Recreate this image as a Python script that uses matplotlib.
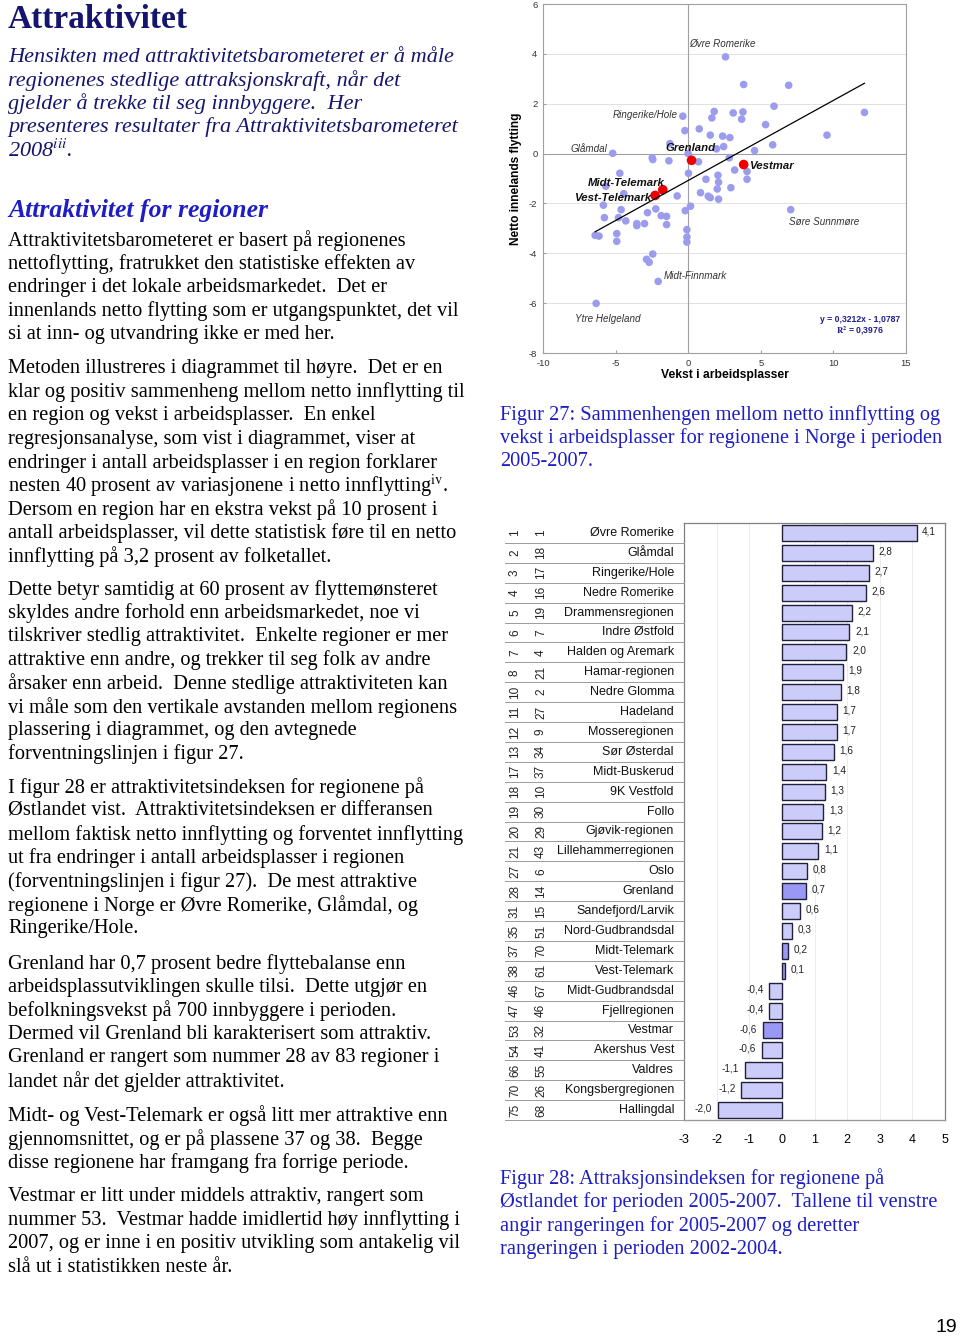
import matplotlib.pyplot as plt
from matplotlib.transforms import blended_transform_factory
import numpy as np

plt.rcParams['mathtext.fontset'] = 'stix'
plt.rcParams['font.family'] = ['Liberation Sans', 'DejaVu Sans']
plt.rcParams['axes.unicode_minus'] = False

W, H = 960, 1336

# --- Figur 27: vekst i arbeidsplasser (x) mot netto innenlands flytting (y)
vekst = [2.57, 3.82, 6.92, 5.91, 12.14, -0.37, 1.79, 1.63, 3.10, 3.77,
         3.68, 5.33, -0.23, 0.76, 1.52, 2.37, 2.87, 9.56, 2.44, 1.95,
         5.82, 4.57, -1.26, -5.20, -2.48, -2.44, -1.33, 0.00, 0.71, 2.83,
         3.20, 4.05, 4.05, -4.71, 0.02, 1.22, 2.05, 2.09, 2.00, 2.94,
         -5.68, -4.44, -0.76, 0.85, 1.38, 1.52, 2.09, -5.84, -5.77, -4.62,
         -4.80, -4.30, -3.54, -3.54, -3.01, -2.80, -2.23, -1.86, -1.49, -1.49,
         -0.20, 0.16, -0.09, -0.09, -0.09, -6.41, -6.14, -4.92, -4.92, -2.44,
         -2.87, -2.69, -2.07, -6.34, 7.06]
flytting = [3.88, 2.77, 2.74, 1.90, 1.65, 1.50, 1.69, 1.43, 1.63, 1.67,
            1.38, 1.16, 0.92, 0.99, 0.74, 0.70, 0.64, 0.74, 0.28, 0.19,
            0.35, 0.12, 0.40, 0.01, -0.17, -0.24, -0.29, 0.00, -0.33, -0.17,
            -0.66, -0.72, -1.03, -0.79, -0.79, -1.03, -0.87, -1.15, -1.42, -1.37,
            -1.31, -1.61, -1.70, -1.57, -1.71, -1.77, -1.83, -2.07, -2.57, -2.25,
            -2.57, -2.70, -2.81, -2.89, -2.81, -2.37, -2.22, -2.49, -2.52, -2.85,
            -2.29, -2.11, -3.05, -3.35, -3.55, -3.28, -3.31, -3.21, -3.52, -4.03,
            -4.24, -4.36, -5.13, -6.01, -2.25]

# navngitte punkter (indeks i listene over)
navn_punkt = ['Øvre Romerike', 'Ringerike/Hole', 'Glåmdal', 'Midt-Finnmark',
              'Ytre Helgeland', 'Søre Sunnmøre']
navn_idx = [0, 5, 23, 72, 73, 74]

# Telemark-regionene
tm_navn = ['Grenland', 'Vestmar', 'Midt-Telemark', 'Vest-Telemark']
tm_x = [0.23, 3.82, -1.75, -2.28]
tm_y = [-0.27, -0.44, -1.45, -1.68]

stigning, konstant, r2 = 0.3212, -1.0787, 0.3976

# --- Figur 28: attraksjonsindeks Østlandet
rang_0507 = [1, 2, 3, 4, 5, 6, 7, 8, 10, 11, 12, 13, 17, 18, 19, 20, 21, 27,
             28, 31, 35, 37, 38, 46, 47, 53, 54, 66, 70, 75]
rang_0204 = [1, 18, 17, 16, 19, 7, 4, 21, 2, 27, 9, 34, 37, 10, 30, 29, 43, 6,
             14, 15, 51, 70, 61, 67, 46, 32, 41, 55, 26, 68]
regioner = ['Øvre Romerike', 'Glåmdal', 'Ringerike/Hole', 'Nedre Romerike',
            'Drammensregionen', 'Indre Østfold', 'Halden og Aremark',
            'Hamar-regionen', 'Nedre Glomma', 'Hadeland', 'Mosseregionen',
            'Sør Østerdal', 'Midt-Buskerud', '9K Vestfold', 'Follo',
            'Gjøvik-regionen', 'Lillehammerregionen', 'Oslo', 'Grenland',
            'Sandefjord/Larvik', 'Nord-Gudbrandsdal', 'Midt-Telemark',
            'Vest-Telemark', 'Midt-Gudbrandsdal', 'Fjellregionen', 'Vestmar',
            'Akershus Vest', 'Valdres', 'Kongsbergregionen', 'Hallingdal']
indeks = [4.13, 2.78, 2.66, 2.58, 2.16, 2.07, 1.98, 1.86, 1.80, 1.69, 1.69,
          1.60, 1.36, 1.32, 1.27, 1.22, 1.12, 0.77, 0.73, 0.56, 0.32, 0.19,
          0.11, -0.39, -0.39, -0.59, -0.62, -1.14, -1.24, -1.96]

fig = plt.figure(figsize=(9.6, 13.36), dpi=100)


def fy(py):
    return 1 - py / H


def komma(v, fmt='%.1f'):
    return (fmt % v).replace('.', ',')


# ---------------- scatter ----------------
ax1 = fig.add_axes([543 / W, fy(353), 363 / W, 349 / H])
ax1.set_xlim(-10, 15)
ax1.set_ylim(-8, 6)
ax1.set_xticks(range(-10, 16, 5))
ax1.set_yticks(range(-8, 7, 2))
for v in range(-8, 7, 2):
    if v != 0:
        ax1.axhline(v, color='#dcdcdc', lw=0.6, zorder=0)
ax1.axhline(0, color='#a0a0a0', lw=0.8, zorder=0)
ax1.axvline(0, color='#a0a0a0', lw=0.8, zorder=0)
for s in ax1.spines.values():
    s.set_color('#a0a0a0')
    s.set_linewidth(0.8)
ax1.tick_params(labelsize=6.8, labelcolor='#333333', length=2, direction='in',
                color='#a0a0a0', pad=4)

ax1.scatter(vekst, flytting, s=30, color='#9c9cee', edgecolors='none', zorder=3)
ax1.scatter(tm_x, tm_y, s=48, color='#ee0000', edgecolors='none', zorder=4)

xl = np.array([min(vekst), max(vekst)])
ax1.plot(xl, stigning * xl + konstant, color='black', lw=0.9, zorder=5)

# etiketter
off_navn = [(-2, 9, 'center'), (-4, 1, 'right'), (-4, 3, 'right'),
            (4, 4, 'left'), (8, -11, 'center'), (-1, -9, 'left')]
for nv, i, (dx, dy, ha) in zip(navn_punkt, navn_idx, off_navn):
    ax1.annotate(nv, (vekst[i], flytting[i]), xytext=(dx, dy),
                 textcoords='offset points', ha=ha, va='center',
                 fontsize=7.1, style='italic', color='#333333', zorder=6)
off_tm = [(-1, 9, 'center'), (4, -1, 'left'), (1, 5, 'right'), (-3, -2, 'right')]
for nv, x, y, (dx, dy, ha) in zip(tm_navn, tm_x, tm_y, off_tm):
    ax1.annotate(nv, (x, y), xytext=(dx, dy), textcoords='offset points',
                 ha=ha, va='center', fontsize=8.2, style='italic',
                 weight='bold', color='#111111', zorder=6)

ax1.text(0.985, 0.095, 'y = %sx - %s' % (komma(stigning, '%.4f'),
                                         komma(-konstant, '%.4f')),
         transform=ax1.transAxes, ha='right', va='center', fontsize=6.2,
         weight='bold', color='#1c1c90')
ax1.text(0.94, 0.063, '$\\mathbf{R^2}$ = %s' % komma(r2, '%.4f'),
         transform=ax1.transAxes, ha='right', va='center', fontsize=6.2,
         weight='bold', color='#1c1c90')
ax1.set_xlabel('Vekst i arbeidsplasser', fontsize=8.7, weight='bold', labelpad=1)
ax1.set_ylabel('Netto innelands flytting', fontsize=8.6, weight='bold', labelpad=5)

# ---------------- stolpediagram ----------------
n = len(regioner)
ax2 = fig.add_axes([684 / W, fy(1120), 261 / W, 597 / H])
rad = np.arange(n)
uthevet = {'Grenland', 'Midt-Telemark', 'Vest-Telemark', 'Vestmar'}
farger = ['#9999f5' if r in uthevet else '#ccccfa' for r in regioner]
ax2.barh(rad, indeks, height=0.8, color=farger, edgecolor='#20203a', lw=1,
         zorder=3)
ax2.set_xlim(-3, 5)
ax2.set_ylim(n - 0.5, -0.5)
ax2.set_yticks([])
ax2.set_xticks(range(-3, 6))
ax2.tick_params(axis='x', length=0, labelsize=9, pad=10)
for v in range(-2, 5):
    ax2.axvline(v, color='#ececec', lw=0.7, zorder=0)
for s in ax2.spines.values():
    s.set_color('#808080')
    s.set_linewidth(0.9)

for i, v in enumerate(indeks):
    if v >= 0:
        ax2.annotate(komma(v), (v, i), xytext=(4, 1), textcoords='offset points',
                     ha='left', va='center', fontsize=7.2, color='#222222')
    else:
        ax2.annotate(komma(v), (v, i), xytext=(-4, 1), textcoords='offset points',
                     ha='right', va='center', fontsize=7.2, color='#222222')

tr = blended_transform_factory(fig.transFigure, ax2.transData)
for i in range(n):
    fig.text(515 / W, i, str(rang_0507[i]), transform=tr, rotation=90,
             ha='center', va='center', fontsize=8.5, color='#222222')
    fig.text(541 / W, i, str(rang_0204[i]), transform=tr, rotation=90,
             ha='center', va='center', fontsize=8.5, color='#222222')
    fig.text(674 / W, i, regioner[i], transform=tr, ha='right', va='center',
             fontsize=9, color='#111111')
    x1 = 684 / W if i < n - 1 else 945 / W
    fig.add_artist(plt.Line2D([505 / W, x1], [i + 0.5, i + 0.5], transform=tr,
                              color='#9a9a9a', lw=0.7))

# ---------------- tekst ----------------
serif = ['Liberation Serif', 'DejaVu Serif']
navy = '#15156e'
blaa = '#1e1ec4'
LS = 23.45


def avsnitt(linjer, y0, x0=8, fontsize=14.7, **kw):
    for k, l in enumerate(linjer):
        fig.text(x0 / W, fy(y0 + k * LS), l, ha='left', va='center',
                 family=serif, fontsize=fontsize, **kw)


fig.text(8 / W, fy(20), 'Attraktivitet', ha='left', va='center', family=serif,
         fontsize=24, weight='bold', color=navy)
avsnitt(['Hensikten med attraktivitetsbarometeret er å måle',
         'regionenes stedlige attraksjonskraft, når det',
         'gjelder å trekke til seg innbyggere.  Her',
         'presenteres resultater fra Attraktivitetsbarometeret',
         r'2008$^{\mathit{iii}}$.'], 57, style='italic', color=navy,
        fontsize=16)
fig.text(8 / W, fy(210), 'Attraktivitet for regioner', ha='left', va='center',
         family=serif, fontsize=18.5, weight='bold', style='italic', color=blaa)
avsnitt(['Attraktivitetsbarometeret er basert på regionenes',
         'nettoflytting, fratrukket den statistiske effekten av',
         'endringer i det lokale arbeidsmarkedet.  Det er',
         'innenlands netto flytting som er utgangspunktet, det vil',
         'si at inn- og utvandring ikke er med her.'], 241, color='black')
avsnitt(['Metoden illustreres i diagrammet til høyre.  Det er en',
         'klar og positiv sammenheng mellom netto innflytting til',
         'en region og vekst i arbeidsplasser.  En enkel',
         'regresjonsanalyse, som vist i diagrammet, viser at',
         'endringer i antall arbeidsplasser i en region forklarer',
         r'nesten 40 prosent av variasjonene i netto innflytting$^{\mathrm{iv}}$.',
         'Dersom en region har en ekstra vekst på 10 prosent i',
         'antall arbeidsplasser, vil dette statistisk føre til en netto',
         'innflytting på 3,2 prosent av folketallet.'], 369, color='black')
avsnitt(['Dette betyr samtidig at 60 prosent av flyttemønsteret',
         'skyldes andre forhold enn arbeidsmarkedet, noe vi',
         'tilskriver stedlig attraktivitet.  Enkelte regioner er mer',
         'attraktive enn andre, og trekker til seg folk av andre',
         'årsaker enn arbeid.  Denne stedlige attraktiviteten kan',
         'vi måle som den vertikale avstanden mellom regionens',
         'plassering i diagrammet, og den avtegnede',
         'forventningslinjen i figur 27.'], 590, color='black')
avsnitt(['I figur 28 er attraktivitetsindeksen for regionene på',
         'Østlandet vist.  Attraktivitetsindeksen er differansen',
         'mellom faktisk netto innflytting og forventet innflytting',
         'ut fra endringer i antall arbeidsplasser i regionen',
         '(forventningslinjen i figur 27).  De mest attraktive',
         'regionene i Norge er Øvre Romerike, Glåmdal, og',
         'Ringerike/Hole.'], 788, color='black')
avsnitt(['Grenland har 0,7 prosent bedre flyttebalanse enn',
         'arbeidsplassutviklingen skulle tilsi.  Dette utgjør en',
         'befolkningsvekst på 700 innbyggere i perioden.',
         'Dermed vil Grenland bli karakterisert som attraktiv.',
         'Grenland er rangert som nummer 28 av 83 regioner i',
         'landet når det gjelder attraktivitet.'], 964, color='black')
avsnitt(['Midt- og Vest-Telemark er også litt mer attraktive enn',
         'gjennomsnittet, og er på plassene 37 og 38.  Begge',
         'disse regionene har framgang fra forrige periode.'], 1116,
        color='black')
avsnitt(['Vestmar er litt under middels attraktiv, rangert som',
         'nummer 53.  Vestmar hadde imidlertid høy innflytting i',
         '2007, og er inne i en positiv utvikling som antakelig vil',
         'slå ut i statistikken neste år.'], 1197, color='black')

avsnitt(['Figur 27: Sammenhengen mellom netto innflytting og',
         'vekst i arbeidsplasser for regionene i Norge i perioden',
         '2005-2007.'], 415, x0=500, color=blaa)
avsnitt(['Figur 28: Attraksjonsindeksen for regionene på',
         'Østlandet for perioden 2005-2007.  Tallene til venstre',
         'angir rangeringen for 2005-2007 og deretter',
         'rangeringen i perioden 2002-2004.'], 1179, x0=500, color=blaa)

fig.text(957 / W, fy(1327), '19', ha='right', va='center', fontsize=14,
         color='black')

fig.savefig('out.png', dpi=100)
